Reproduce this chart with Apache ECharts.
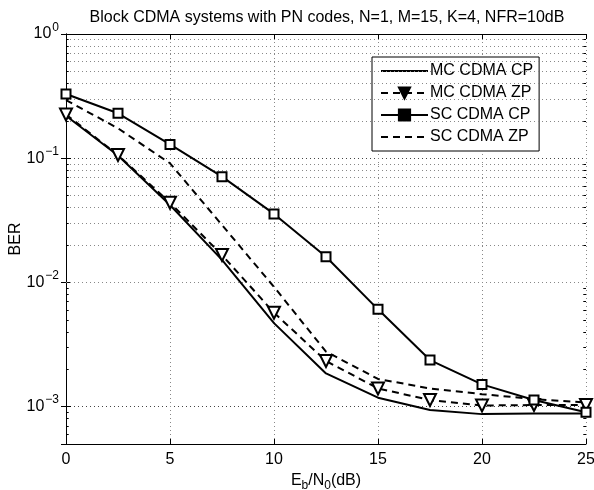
<!DOCTYPE html>
<html>
<head>
<meta charset="utf-8">
<script src="https://cdn.jsdelivr.net/npm/echarts@6/dist/echarts.min.js"></script>
<style>html,body{margin:0;padding:0;background:#fff;}#c{width:594px;height:490px;}</style>
</head>
<body>
<div id="c"></div>
<script>
var snr = [0, 2.5, 5, 7.5, 10, 12.5, 15, 17.5, 20, 22.5, 25];
var mcCP = [0.22, 0.105, 0.042, 0.0152, 0.0047, 0.00185, 0.00118, 0.00094, 0.00087, 0.00088, 0.00088];
var mcZP = [0.225, 0.106, 0.0438, 0.0166, 0.0057, 0.00233, 0.0014, 0.00113, 0.00102, 0.00103, 0.00103];
var scCP = [0.329, 0.230, 0.129, 0.071, 0.0356, 0.0161, 0.00607, 0.00237, 0.00151, 0.00113, 0.0009];
var scZP = [0.294, 0.174, 0.091, 0.029, 0.0092, 0.00277, 0.00167, 0.0014, 0.00126, 0.00115, 0.00108];
var seriesNames = ['MC CDMA CP', 'MC CDMA ZP', 'SC CDMA CP', 'SC CDMA ZP'];
var titleText = 'Block CDMA systems with PN codes, N=1, M=15, K=4, NFR=10dB';
var minorVals = [];
[0.0001, 0.001, 0.01, 0.1].forEach(function (d) {
  for (var k = 2; k <= 9; k++) { var v = +(k * d).toPrecision(3); if (v >= 0.0005 && v < 1) minorVals.push(v); }
});

function pairs(arr) { return snr.map(function (x, i) { return [x, arr[i]]; }); }
var FONT = 'Liberation Sans, Arial, Helvetica, sans-serif';
function yLabel(v) {
  var l = Math.log10(v);
  var r = Math.round(l);
  if (Math.abs(l - r) > 1e-6) return '';
  var e = String(r).replace('-', '\u2212');
  return '{b|10}{s|' + e + '}';
}

var gridLines = minorVals.map(function (v) { return { yAxis: v }; });
var tickLines = [];
minorVals.forEach(function (v) {
  tickLines.push([{ coord: [0, v] }, { coord: [0.13, v] }]);
  tickLines.push([{ coord: [24.87, v] }, { coord: [25, v] }]);
});

var chart = echarts.init(document.getElementById('c'), null, { renderer: 'canvas' });
var option = {
  animation: false,
  backgroundColor: '#fff',
  textStyle: { fontFamily: FONT },
  title: {
    text: titleText,
    left: 322, top: 5, textAlign: 'center',
    textStyle: { fontSize: 16, fontWeight: 'normal', color: '#000', fontFamily: FONT }
  },
  legend: {
    data: [
      { name: seriesNames[0], itemStyle: { opacity: 0 } },
      { name: seriesNames[1], itemStyle: { color: '#000', borderColor: '#000' } },
      { name: seriesNames[2], itemStyle: { color: '#000', borderColor: '#000' } },
      { name: seriesNames[3], itemStyle: { opacity: 0 } }
    ],
    orient: 'vertical',
    left: 372, top: 57,
    backgroundColor: '#fff',
    borderColor: '#000', borderWidth: 1, borderRadius: 0,
    padding: [6, 6, 6, 8],
    itemWidth: 47, itemHeight: 14, itemGap: 6,
    textStyle: { fontSize: 16, color: '#000', fontFamily: FONT, padding: [0, 0, 0, -3] }
  },
  grid: { left: 66, right: 8, top: 34, bottom: 46, containLabel: false, outerBoundsMode: 'none' },
  xAxis: [{
    type: 'value', min: 0, max: 25, interval: 5, position: 'bottom',
    name: '{n|E}{u|b}{n|/N}{u|0}{n|(dB)}',
    nameLocation: 'middle', nameGap: 26,
    nameTextStyle: {
      rich: {
        n: { fontSize: 16, color: '#000', fontFamily: FONT },
        u: { fontSize: 12, color: '#000', fontFamily: FONT, padding: [10, 0, 0, 0] }
      }
    },
    axisLine: { show: true, lineStyle: { color: '#000', width: 1 } },
    axisTick: { show: true, inside: true, length: 5, lineStyle: { color: '#000' } },
    axisLabel: { fontSize: 16, color: '#000', margin: 8, fontFamily: FONT },
    splitLine: { show: true, lineStyle: { color: '#888', type: [1, 3], width: 1 } }
  }, {
    type: 'value', min: 0, max: 25, interval: 5, position: 'top',
    axisLine: { show: true, lineStyle: { color: '#000', width: 1 } },
    axisTick: { show: true, inside: true, length: 5, lineStyle: { color: '#000' } },
    axisLabel: { show: false },
    splitLine: { show: false }
  }],
  yAxis: [{
    type: 'log', logBase: 10, min: 0.0005, max: 1, position: 'left',
    name: 'BER', nameLocation: 'middle', nameGap: 42, nameMoveOverlap: false,
    nameTextStyle: { fontSize: 16, color: '#000', fontFamily: FONT },
    axisLine: { show: true, lineStyle: { color: '#000', width: 1 } },
    axisTick: { show: true, inside: true, length: 5, lineStyle: { color: '#000' } },
    axisLabel: {
      formatter: yLabel, margin: 7,
      rich: {
        b: { fontSize: 16, color: '#000', fontFamily: FONT },
        s: { fontSize: 12, color: '#000', fontFamily: FONT, padding: [0, 0, 13, 1] }
      }
    },
    splitLine: { show: true, lineStyle: { color: '#444', type: [1, 3], width: 1 } }
  }, {
    type: 'log', logBase: 10, min: 0.0005, max: 1, position: 'right',
    axisLine: { show: true, lineStyle: { color: '#000', width: 1 } },
    axisTick: { show: true, inside: true, length: 5, lineStyle: { color: '#000' } },
    axisLabel: { show: false },
    splitLine: { show: false }
  }],
  series: [{
    name: seriesNames[0], type: 'line', data: pairs(mcCP),
    symbol: 'none', z: 5,
    itemStyle: { color: '#000' },
    lineStyle: { color: '#000', width: 2, type: 'solid' },
    markLine: {
      silent: true, symbol: 'none', animation: false,
      label: { show: false },
      lineStyle: { color: '#888', type: [1, 3], width: 1 },
      data: gridLines
    }
  }, {
    name: seriesNames[1], type: 'line', data: pairs(mcZP),
    symbol: 'triangle', symbolSize: 12, symbolRotate: 180, showAllSymbol: true, z: 6,
    itemStyle: { color: '#fff', borderColor: '#000', borderWidth: 2 },
    lineStyle: { color: '#000', width: 2, type: [7, 5] },
    markLine: {
      silent: true, symbol: 'none', animation: false,
      label: { show: false },
      lineStyle: { color: '#000', type: 'solid', width: 1 },
      data: tickLines
    }
  }, {
    name: seriesNames[2], type: 'line', data: pairs(scCP),
    symbol: 'rect', symbolSize: 9, showAllSymbol: true, z: 6,
    itemStyle: { color: '#fff', borderColor: '#000', borderWidth: 2 },
    lineStyle: { color: '#000', width: 2, type: 'solid' }
  }, {
    name: seriesNames[3], type: 'line', data: pairs(scZP),
    symbol: 'none', z: 5,
    itemStyle: { color: '#000' },
    lineStyle: { color: '#000', width: 2, type: [7, 5] }
  }]
};
chart.setOption(option);
</script>
</body>
</html>
